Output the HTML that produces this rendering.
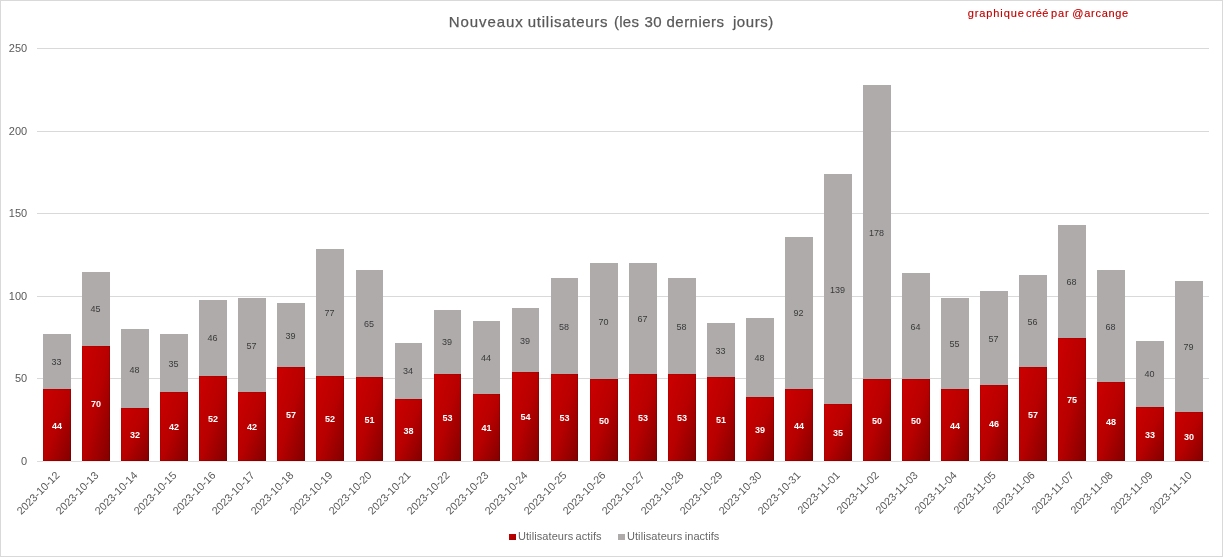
<!DOCTYPE html>
<html><head><meta charset="utf-8"><title>Nouveaux utilisateurs</title>
<style>
html,body{margin:0;padding:0;background:#fff;}
body{width:1223px;height:557px;position:relative;overflow:hidden;font-family:"Liberation Sans",sans-serif;color:#595959;}
#c{position:absolute;left:0;top:0;width:1223px;height:557px;box-sizing:border-box;border:1px solid #d9d9d9;background:#fff;}
#w{position:absolute;left:0;top:0;width:1223px;height:557px;will-change:transform;}
.g{position:absolute;left:37px;width:1172px;height:1px;background:#d9d9d9;}
.yl{position:absolute;left:0;width:27.2px;text-align:right;font-size:11px;line-height:12px;height:12px;}
.b{position:absolute;width:28px;}
.r{background:linear-gradient(to bottom right,#cc0000 0%,#b80000 50%,#820000 100%);box-shadow:inset -1px -1px 0 rgba(0,0,0,0.12), inset 1px 1px 0 rgba(0,0,0,0.07), 0 1px 0 #fbeaea;}
.a{background:#afabab;}
.dl{position:absolute;width:40px;text-align:center;font-size:9px;line-height:10px;height:10px;}
.w{color:#fff;font-weight:bold;}
.k{color:#3a3a3a;}
.t{position:absolute;white-space:nowrap;}
.xl{position:absolute;white-space:nowrap;font-size:10.8px;line-height:12px;height:12px;transform-origin:100% 0;transform:rotate(-45deg);}

</style></head><body><div id="c"></div><div id="w">
<div class="g" style="top:378px"></div>
<div class="g" style="top:296px"></div>
<div class="g" style="top:213px"></div>
<div class="g" style="top:131px"></div>
<div class="g" style="top:48px"></div>
<div class="yl" style="top:455.0px">0</div>
<div class="yl" style="top:372.4px">50</div>
<div class="yl" style="top:289.8px">100</div>
<div class="yl" style="top:207.2px">150</div>
<div class="yl" style="top:124.6px">200</div>
<div class="yl" style="top:42.0px">250</div>
<div class="g" style="top:461px;background:#dcdcdc"></div>
<div class="b a" style="left:43px;width:28px;top:334.00px;height:57.00px"></div>
<div class="b r" style="left:43px;width:28px;top:389.00px;height:72.00px"></div>
<div class="dl k" style="left:36.6px;top:357px">33</div>
<div class="dl w" style="left:37.0px;top:421px">44</div>
<div class="b a" style="left:82px;width:28px;top:272.00px;height:76.00px"></div>
<div class="b r" style="left:82px;width:28px;top:346.00px;height:115.00px"></div>
<div class="dl k" style="left:75.6px;top:304px">45</div>
<div class="dl w" style="left:76.0px;top:399px">70</div>
<div class="b a" style="left:121px;width:28px;top:329.00px;height:81.00px"></div>
<div class="b r" style="left:121px;width:28px;top:408.00px;height:53.00px"></div>
<div class="dl k" style="left:114.6px;top:365px">48</div>
<div class="dl w" style="left:115.0px;top:430px">32</div>
<div class="b a" style="left:160px;width:28px;top:334.00px;height:60.00px"></div>
<div class="b r" style="left:160px;width:28px;top:392.00px;height:69.00px"></div>
<div class="dl k" style="left:153.6px;top:359px">35</div>
<div class="dl w" style="left:154.0px;top:422px">42</div>
<div class="b a" style="left:199px;width:28px;top:300.00px;height:78.00px"></div>
<div class="b r" style="left:199px;width:28px;top:376.00px;height:85.00px"></div>
<div class="dl k" style="left:192.6px;top:333px">46</div>
<div class="dl w" style="left:193.0px;top:414px">52</div>
<div class="b a" style="left:238px;width:28px;top:298.00px;height:96.00px"></div>
<div class="b r" style="left:238px;width:28px;top:392.00px;height:69.00px"></div>
<div class="dl k" style="left:231.6px;top:341px">57</div>
<div class="dl w" style="left:232.0px;top:422px">42</div>
<div class="b a" style="left:277px;width:28px;top:303.00px;height:66.00px"></div>
<div class="b r" style="left:277px;width:28px;top:367.00px;height:94.00px"></div>
<div class="dl k" style="left:270.6px;top:331px">39</div>
<div class="dl w" style="left:271.0px;top:410px">57</div>
<div class="b a" style="left:316px;width:28px;top:249.00px;height:129.00px"></div>
<div class="b r" style="left:316px;width:28px;top:376.00px;height:85.00px"></div>
<div class="dl k" style="left:309.6px;top:308px">77</div>
<div class="dl w" style="left:310.0px;top:414px">52</div>
<div class="b a" style="left:356px;width:27px;top:270.00px;height:109.00px"></div>
<div class="b r" style="left:356px;width:27px;top:377.00px;height:84.00px"></div>
<div class="dl k" style="left:349.1px;top:319px">65</div>
<div class="dl w" style="left:349.5px;top:415px">51</div>
<div class="b a" style="left:395px;width:27px;top:343.00px;height:58.00px"></div>
<div class="b r" style="left:395px;width:27px;top:399.00px;height:62.00px"></div>
<div class="dl k" style="left:388.1px;top:366px">34</div>
<div class="dl w" style="left:388.5px;top:426px">38</div>
<div class="b a" style="left:434px;width:27px;top:310.00px;height:66.00px"></div>
<div class="b r" style="left:434px;width:27px;top:374.00px;height:87.00px"></div>
<div class="dl k" style="left:427.1px;top:337px">39</div>
<div class="dl w" style="left:427.5px;top:413px">53</div>
<div class="b a" style="left:473px;width:27px;top:321.00px;height:75.00px"></div>
<div class="b r" style="left:473px;width:27px;top:394.00px;height:67.00px"></div>
<div class="dl k" style="left:466.1px;top:353px">44</div>
<div class="dl w" style="left:466.5px;top:423px">41</div>
<div class="b a" style="left:512px;width:27px;top:308.00px;height:66.00px"></div>
<div class="b r" style="left:512px;width:27px;top:372.00px;height:89.00px"></div>
<div class="dl k" style="left:505.1px;top:336px">39</div>
<div class="dl w" style="left:505.5px;top:412px">54</div>
<div class="b a" style="left:551px;width:27px;top:278.00px;height:98.00px"></div>
<div class="b r" style="left:551px;width:27px;top:374.00px;height:87.00px"></div>
<div class="dl k" style="left:544.1px;top:322px">58</div>
<div class="dl w" style="left:544.5px;top:413px">53</div>
<div class="b a" style="left:590px;width:28px;top:263.00px;height:118.00px"></div>
<div class="b r" style="left:590px;width:28px;top:379.00px;height:82.00px"></div>
<div class="dl k" style="left:583.6px;top:317px">70</div>
<div class="dl w" style="left:584.0px;top:416px">50</div>
<div class="b a" style="left:629px;width:28px;top:263.00px;height:113.00px"></div>
<div class="b r" style="left:629px;width:28px;top:374.00px;height:87.00px"></div>
<div class="dl k" style="left:622.6px;top:314px">67</div>
<div class="dl w" style="left:623.0px;top:413px">53</div>
<div class="b a" style="left:668px;width:28px;top:278.00px;height:98.00px"></div>
<div class="b r" style="left:668px;width:28px;top:374.00px;height:87.00px"></div>
<div class="dl k" style="left:661.6px;top:322px">58</div>
<div class="dl w" style="left:662.0px;top:413px">53</div>
<div class="b a" style="left:707px;width:28px;top:323.00px;height:56.00px"></div>
<div class="b r" style="left:707px;width:28px;top:377.00px;height:84.00px"></div>
<div class="dl k" style="left:700.6px;top:346px">33</div>
<div class="dl w" style="left:701.0px;top:415px">51</div>
<div class="b a" style="left:746px;width:28px;top:318.00px;height:81.00px"></div>
<div class="b r" style="left:746px;width:28px;top:397.00px;height:64.00px"></div>
<div class="dl k" style="left:739.6px;top:353px">48</div>
<div class="dl w" style="left:740.0px;top:425px">39</div>
<div class="b a" style="left:785px;width:28px;top:237.00px;height:154.00px"></div>
<div class="b r" style="left:785px;width:28px;top:389.00px;height:72.00px"></div>
<div class="dl k" style="left:778.6px;top:308px">92</div>
<div class="dl w" style="left:779.0px;top:421px">44</div>
<div class="b a" style="left:824px;width:28px;top:174.00px;height:232.00px"></div>
<div class="b r" style="left:824px;width:28px;top:404.00px;height:57.00px"></div>
<div class="dl k" style="left:817.6px;top:285px">139</div>
<div class="dl w" style="left:818.0px;top:428px">35</div>
<div class="b a" style="left:863px;width:28px;top:85.00px;height:296.00px"></div>
<div class="b r" style="left:863px;width:28px;top:379.00px;height:82.00px"></div>
<div class="dl k" style="left:856.6px;top:228px">178</div>
<div class="dl w" style="left:857.0px;top:416px">50</div>
<div class="b a" style="left:902px;width:28px;top:273.00px;height:108.00px"></div>
<div class="b r" style="left:902px;width:28px;top:379.00px;height:82.00px"></div>
<div class="dl k" style="left:895.6px;top:322px">64</div>
<div class="dl w" style="left:896.0px;top:416px">50</div>
<div class="b a" style="left:941px;width:28px;top:298.00px;height:93.00px"></div>
<div class="b r" style="left:941px;width:28px;top:389.00px;height:72.00px"></div>
<div class="dl k" style="left:934.6px;top:339px">55</div>
<div class="dl w" style="left:935.0px;top:421px">44</div>
<div class="b a" style="left:980px;width:28px;top:291.00px;height:96.00px"></div>
<div class="b r" style="left:980px;width:28px;top:385.00px;height:76.00px"></div>
<div class="dl k" style="left:973.6px;top:334px">57</div>
<div class="dl w" style="left:974.0px;top:419px">46</div>
<div class="b a" style="left:1019px;width:28px;top:275.00px;height:94.00px"></div>
<div class="b r" style="left:1019px;width:28px;top:367.00px;height:94.00px"></div>
<div class="dl k" style="left:1012.6px;top:317px">56</div>
<div class="dl w" style="left:1013.0px;top:410px">57</div>
<div class="b a" style="left:1058px;width:28px;top:225.00px;height:115.00px"></div>
<div class="b r" style="left:1058px;width:28px;top:338.00px;height:123.00px"></div>
<div class="dl k" style="left:1051.6px;top:277px">68</div>
<div class="dl w" style="left:1052.0px;top:395px">75</div>
<div class="b a" style="left:1097px;width:28px;top:270.00px;height:114.00px"></div>
<div class="b r" style="left:1097px;width:28px;top:382.00px;height:79.00px"></div>
<div class="dl k" style="left:1090.6px;top:322px">68</div>
<div class="dl w" style="left:1091.0px;top:417px">48</div>
<div class="b a" style="left:1136px;width:28px;top:341.00px;height:68.00px"></div>
<div class="b r" style="left:1136px;width:28px;top:407.00px;height:54.00px"></div>
<div class="dl k" style="left:1129.6px;top:369px">40</div>
<div class="dl w" style="left:1130.0px;top:430px">33</div>
<div class="b a" style="left:1175px;width:28px;top:281.00px;height:133.00px"></div>
<div class="b r" style="left:1175px;width:28px;top:412.00px;height:49.00px"></div>
<div class="dl k" style="left:1168.6px;top:342px">79</div>
<div class="dl w" style="left:1169.0px;top:432px">30</div>
<div class="xl" style="right:1170.0px;top:469.1px">2023-10-12</div>
<div class="xl" style="right:1131.0px;top:469.1px">2023-10-13</div>
<div class="xl" style="right:1091.9px;top:469.1px">2023-10-14</div>
<div class="xl" style="right:1052.9px;top:469.1px">2023-10-15</div>
<div class="xl" style="right:1013.9px;top:469.1px">2023-10-16</div>
<div class="xl" style="right:974.8px;top:469.1px">2023-10-17</div>
<div class="xl" style="right:935.8px;top:469.1px">2023-10-18</div>
<div class="xl" style="right:896.8px;top:469.1px">2023-10-19</div>
<div class="xl" style="right:857.7px;top:469.1px">2023-10-20</div>
<div class="xl" style="right:818.7px;top:469.1px">2023-10-21</div>
<div class="xl" style="right:779.7px;top:469.1px">2023-10-22</div>
<div class="xl" style="right:740.6px;top:469.1px">2023-10-23</div>
<div class="xl" style="right:701.6px;top:469.1px">2023-10-24</div>
<div class="xl" style="right:662.6px;top:469.1px">2023-10-25</div>
<div class="xl" style="right:623.5px;top:469.1px">2023-10-26</div>
<div class="xl" style="right:584.5px;top:469.1px">2023-10-27</div>
<div class="xl" style="right:545.5px;top:469.1px">2023-10-28</div>
<div class="xl" style="right:506.4px;top:469.1px">2023-10-29</div>
<div class="xl" style="right:467.4px;top:469.1px">2023-10-30</div>
<div class="xl" style="right:428.4px;top:469.1px">2023-10-31</div>
<div class="xl" style="right:389.3px;top:469.1px">2023-11-01</div>
<div class="xl" style="right:350.3px;top:469.1px">2023-11-02</div>
<div class="xl" style="right:311.3px;top:469.1px">2023-11-03</div>
<div class="xl" style="right:272.2px;top:469.1px">2023-11-04</div>
<div class="xl" style="right:233.2px;top:469.1px">2023-11-05</div>
<div class="xl" style="right:194.2px;top:469.1px">2023-11-06</div>
<div class="xl" style="right:155.1px;top:469.1px">2023-11-07</div>
<div class="xl" style="right:116.1px;top:469.1px">2023-11-08</div>
<div class="xl" style="right:77.0px;top:469.1px">2023-11-09</div>
<div class="xl" style="right:38.0px;top:469.1px">2023-11-10</div>
<div class="t" style="left:448.75px;top:12px;font-size:15px;line-height:20px;letter-spacing:0.914px;-webkit-text-stroke:0.25px #595959;">Nouveaux</div>
<div class="t" style="left:527.80px;top:12px;font-size:15px;line-height:20px;letter-spacing:0.732px;-webkit-text-stroke:0.25px #595959;">utilisateurs</div>
<div class="t" style="left:613.95px;top:12px;font-size:15px;line-height:20px;letter-spacing:0.300px;-webkit-text-stroke:0.25px #595959;">(les</div>
<div class="t" style="left:644.40px;top:12px;font-size:15px;line-height:20px;letter-spacing:0.450px;-webkit-text-stroke:0.25px #595959;">30</div>
<div class="t" style="left:666.50px;top:12px;font-size:15px;line-height:20px;letter-spacing:0.479px;-webkit-text-stroke:0.25px #595959;">derniers</div>
<div class="t" style="left:733.00px;top:12px;font-size:15px;line-height:20px;letter-spacing:0.540px;-webkit-text-stroke:0.25px #595959;">jours)</div>
<div class="t" style="left:967.70px;top:7px;font-size:11px;line-height:12px;letter-spacing:0.900px;color:#c00000;-webkit-text-stroke:0.15px #c00000;">graphique</div>
<div class="t" style="left:1026.10px;top:7px;font-size:11px;line-height:12px;letter-spacing:0.300px;color:#c00000;-webkit-text-stroke:0.15px #c00000;">créé</div>
<div class="t" style="left:1051.05px;top:7px;font-size:11px;line-height:12px;letter-spacing:0.850px;color:#c00000;-webkit-text-stroke:0.15px #c00000;">par</div>
<div class="t" style="left:1072.25px;top:7px;font-size:11px;line-height:12px;letter-spacing:0.000px;color:#c00000;-webkit-text-stroke:0.15px #c00000;">@</div>
<div class="t" style="left:1084.30px;top:7px;font-size:11px;line-height:12px;letter-spacing:0.692px;color:#c00000;-webkit-text-stroke:0.15px #c00000;">arcange</div>
<div style="position:absolute;left:509px;top:534px;width:7px;height:6px;background:linear-gradient(to bottom right,#c80000,#a00000)"></div>
<div style="position:absolute;left:618px;top:534px;width:7px;height:6px;background:#afabab"></div>
<div class="t" style="left:517.95px;top:529px;font-size:11px;line-height:14px;letter-spacing:0.086px;color:#676767;">Utilisateurs</div>
<div class="t" style="left:575.50px;top:529px;font-size:11px;line-height:14px;letter-spacing:0.090px;color:#676767;">actifs</div>
<div class="t" style="left:626.95px;top:529px;font-size:11px;line-height:14px;letter-spacing:0.086px;color:#676767;">Utilisateurs</div>
<div class="t" style="left:684.75px;top:529px;font-size:11px;line-height:14px;letter-spacing:0.036px;color:#676767;">inactifs</div>
</div></body></html>
